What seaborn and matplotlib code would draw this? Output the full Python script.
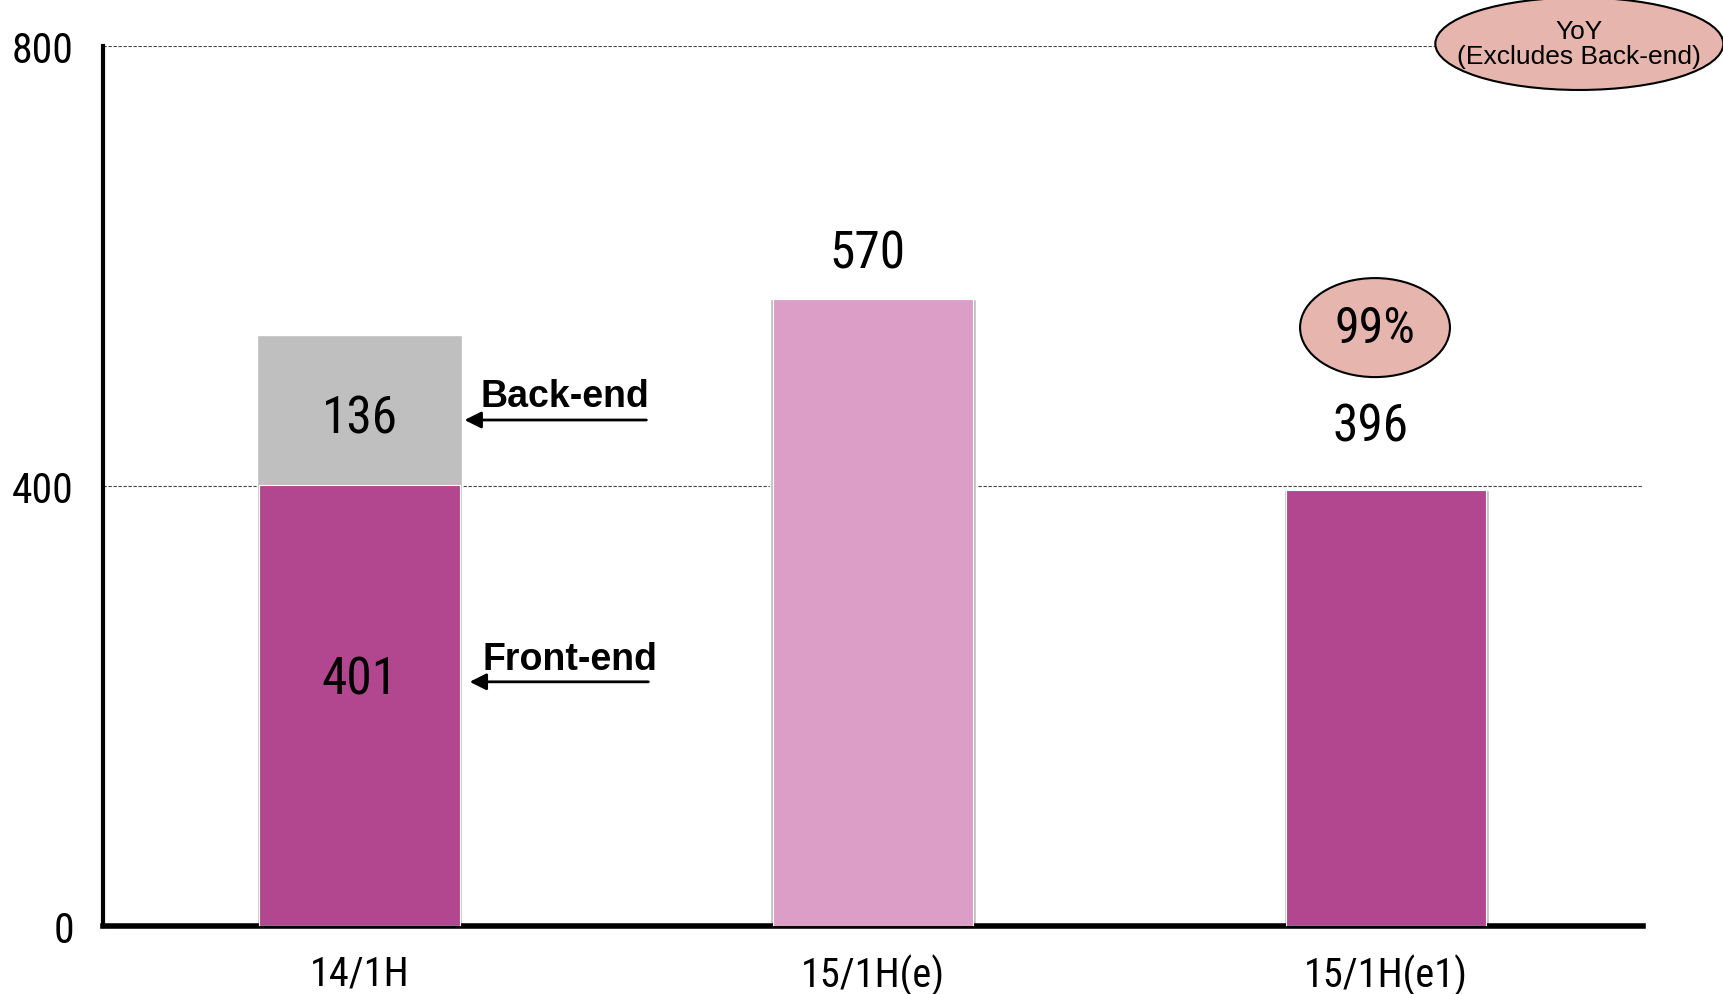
import matplotlib
matplotlib.use("Agg")
import matplotlib.pyplot as plt
from matplotlib.patches import Ellipse
from matplotlib.ticker import FixedLocator
import pandas as pd
import seaborn as sns

# chart data
categories = ["14/1H", "15/1H(e)", "15/1H(e1)"]
front_end = [401, 570, 396]
back_end = [136, 0, 0]
bar_colors = ["#B2478F", "#DC9DC7", "#B2478F"]
yoy_label = "99%"
y_ticks = [0, 400, 800]

sns.set_theme(style="white")
num_font = ["Roboto Condensed", "DejaVu Sans"]
txt_font = ["Liberation Sans", "DejaVu Sans"]
plt.rcParams["font.family"] = num_font
plt.rcParams["text.color"] = "black"
plt.rcParams["xtick.color"] = "black"
plt.rcParams["ytick.color"] = "black"

df = pd.DataFrame({"period": categories, "front": front_end, "back": back_end})
df["total"] = df["front"] + df["back"]

fig = plt.figure(figsize=(17.24, 9.95), dpi=100)
ax = fig.add_axes([0.0597, 0.0683, 0.8933, 0.8845])

# back-end segment (stack drawn as total underneath)
sns.barplot(data=df, x="period", y="total", color="#BFBFBF", width=0.4,
            saturation=1, ax=ax, zorder=2)
# front-end segment
sns.barplot(data=df, x="period", y="front", hue="period", palette=bar_colors,
            width=0.39, saturation=1, legend=False, ax=ax, zorder=3,
            edgecolor="white", linewidth=0.8)

ax.set_xlim(-0.5, 2.5)
ax.set_ylim(0, 800)
ax.set_xlabel("")
ax.set_ylabel("")

ax.set_yticks(y_ticks)
ax.set_yticklabels([str(v) for v in y_ticks], fontsize=30, family=num_font)
ax.tick_params(axis="y", direction="in", length=8, width=2, pad=21)
ax.set_xticks(range(len(categories)))
ax.set_xticklabels(categories, fontsize=29, family=num_font)
ax.tick_params(axis="x", which="major", length=0, pad=20)
ax.xaxis.set_minor_locator(FixedLocator([0.5, 1.5, 2.5]))
ax.tick_params(axis="x", which="minor", direction="in", length=10, width=2.5)

ax.grid(axis="y", linestyle=(0, (3, 1.5)), color="#444444", linewidth=0.8)
ax.set_axisbelow(True)
for side in ["top", "right"]:
    ax.spines[side].set_visible(False)
ax.spines["left"].set_linewidth(3)
ax.spines["bottom"].set_linewidth(4)
ax.spines["left"].set_color("black")
ax.spines["bottom"].set_color("black")

# value labels
ax.text(0, front_end[0] + back_end[0] / 2 - 8, str(back_end[0]), ha="center", va="center",
        fontsize=37, family=num_font, zorder=5)
ax.text(0, 224, str(front_end[0]), ha="center", va="center", fontsize=37,
        family=num_font, zorder=5)
ax.text(1 - 0.01, front_end[1] + 41, str(front_end[1]), ha="center", va="center",
        fontsize=37, family=num_font, zorder=5)
ax.text(2 - 0.03, front_end[2] + 58, str(front_end[2]), ha="center", va="center",
        fontsize=37, family=num_font, zorder=5)

# segment callouts
ax.annotate("", xy=(0.199, 460), xytext=(0.564, 460),
            arrowprops=dict(arrowstyle="-|>", color="black", lw=2, mutation_scale=25))
ax.text(0.236, 482, "Back-end", ha="left", va="center", fontsize=27,
        fontweight="bold", family=txt_font)
ax.annotate("", xy=(0.209, 222), xytext=(0.568, 222),
            arrowprops=dict(arrowstyle="-|>", color="black", lw=2, mutation_scale=25))
ax.text(0.240, 243, "Front-end", ha="left", va="center", fontsize=27,
        fontweight="bold", family=txt_font)

# YoY bubbles
ax.add_patch(Ellipse((1.978, 544), 0.292, 90, facecolor="#E5B5AE", edgecolor="black",
                     linewidth=1.5, zorder=4, clip_on=False))
ax.text(1.978, 544, yoy_label, ha="center", va="center", fontsize=36,
        family=num_font, zorder=5)
ax.add_patch(Ellipse((2.376, 802), 0.561, 84, facecolor="#E5B5AE", edgecolor="black",
                     linewidth=1.5, zorder=4, clip_on=False))
ax.text(2.376, 802, "YoY\n(Excludes Back-end)", ha="center", va="center", fontsize=19,
        family=txt_font, zorder=5, linespacing=1.05)

fig.savefig("out.png", dpi=100)
